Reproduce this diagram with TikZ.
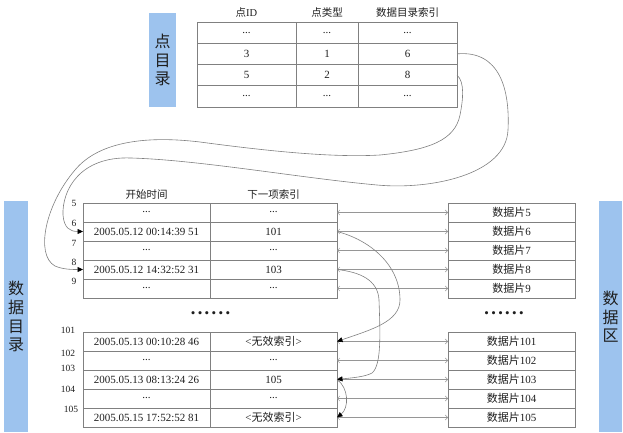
\documentclass[tikz,border=0pt]{standalone}
\usepackage{fontspec}
\setmainfont{Liberation Serif}
\newfontfamily\cjk{Noto Sans CJK SC}
\usetikzlibrary{arrows.meta}
\definecolor{linegray}{RGB}{128,128,128}
\definecolor{arrgray}{RGB}{150,150,150}
\definecolor{txt}{RGB}{30,30,30}
\definecolor{bluefill}{RGB}{157,195,238}
\newcommand\dd{...}
\newcommand\nv{<{\cjk 无效索引}>}
\newcommand\bul{•\hspace{2.4pt}•\hspace{2.4pt}•\hspace{2.4pt}•\hspace{2.4pt}•\hspace{2.4pt}•}
\begin{document}
\begin{tikzpicture}[x=1pt,y=-1pt,
  cell/.style={draw=linegray, line width=0.6pt, minimum width=127pt, minimum height=19pt,
    inner sep=0pt, outer sep=0pt, anchor=north west, text=txt, font=\fontsize{11}{12}\selectfont},
  tcell/.style={cell, minimum height=21.25pt},
  hdr/.style={text=txt, inner sep=0pt, font=\cjk\fontsize{10.5}{12}\selectfont},
  rlab/.style={text=txt, inner sep=0pt, font=\fontsize{9.5}{10}\selectfont},
  bluebox/.style={fill=bluefill, draw=none, anchor=north west, inner sep=0pt, align=center,
    text=txt, font=\cjk\fontsize{16}{18.6}\selectfont},
  dbl/.style={draw=arrgray, line width=0.5pt,
    {Straight Barb[length=2.5pt,width=5pt]}-{Straight Barb[length=2.5pt,width=5pt]}},
  link/.style={draw=linegray, line width=0.6pt,
    -{Triangle[length=5.5pt,width=5pt,color=black,fill=black]}},
  dots/.style={text=txt, inner sep=0pt, font=\fontsize{13}{14}\selectfont}
]
\useasboundingbox (0,0) rectangle (623,433);

% blue side labels
\node[bluebox, minimum width=27pt, minimum height=94pt] (pdir) at (149,13) {点\\目\\录};
\node[bluebox, minimum width=24pt, minimum height=231pt] (ddir) at (4,201) {数\\据\\目\\录};
\node[bluebox, minimum width=23pt, minimum height=231pt] (darea) at (599,201) {数\\据\\区};

% top table
\node[hdr] (h1) at (246.5,12.5) {点{\fontspec{Liberation Serif}ID}};
\node[hdr] (h2) at (327,12.5) {点类型};
\node[hdr] (h3) at (407.5,12.5) {数据目录索引};
\foreach \a/\b/\c [count=\i] in {\dd/\dd/\dd, 3/1/6, 5/2/8, \dd/\dd/\dd} {
  \pgfmathsetmacro\yy{22+(\i-1)*21.25}
  \node[tcell, minimum width=99pt] (t\i a) at (197,\yy) {\a};
  \node[tcell, minimum width=62pt] (t\i b) at (296,\yy) {\b};
  \node[tcell, minimum width=99pt] (t\i c) at (358,\yy) {\c};
}

% middle table
\node[hdr] (h4) at (146.5,195) {开始时间};
\node[hdr] (h5) at (273.5,195) {下一项索引};
\foreach \n/\t/\k/\ly [count=\i] in {5/\dd/\dd/203, 6/{2005.05.12 00:14:39 51}/101/223, 7/\dd/\dd/243, 8/{2005.05.12 14:32:52 31}/103/262, 9/\dd/\dd/281} {
  \pgfmathsetmacro\yy{203+(\i-1)*19}
  \node[cell] (m\n a) at (83,\yy) {\t};
  \node[cell] (m\n b) at (210,\yy) {\k};
  \node[cell] (d\n) at (448,\yy) {{\cjk 数据片}\n};
  \node[rlab] (l\n) at (74,\ly) {\n};
  \draw[dbl] (m\n b.east) -- (d\n.west);
}

% dots
\node[dots] (dots1) at (210.5,315) {\bul};
\node[dots] (dots2) at (504,315) {\bul};

% bottom table
\foreach \n/\t/\k/\lx/\ly [count=\i] in {101/{2005.05.13 00:10:28 46}/\nv/68/330, 102/\dd/\dd/68/353, 103/{2005.05.13 08:13:24 26}/105/68/368.5, 104/\dd/\dd/68/389, 105/{2005.05.15 17:52:52 81}/\nv/71/409} {
  \pgfmathsetmacro\yy{332+(\i-1)*19}
  \node[cell] (m\n a) at (83,\yy) {\t};
  \node[cell] (m\n b) at (210,\yy) {\k};
  \node[cell] (d\n) at (448,\yy) {{\cjk 数据片}\n};
  \node[rlab] (l\n) at (\lx,\ly) {\n};
  \draw[dbl] (m\n b.east) -- (d\n.west);
}

% links from point directory to data directory
\draw[link] (t2c.east) .. controls (500,50) and (510,90) .. (508,130)
  .. controls (506,175) and (430,190) .. (377,185)
  .. controls (300,178) and (200,160) .. (131,158)
  .. controls (80,156) and (62,190) .. (63,215)
  .. controls (64,228) and (70,231.5) .. (m6a.west);
\draw[link] (t3c.east) .. controls (465,82) and (463,100) .. (460,115)
  .. controls (455,140) and (430,150) .. (380,155)
  .. controls (330,158) and (260,150) .. (200,142)
  .. controls (150,136) and (100,140) .. (75,170)
  .. controls (45,205) and (35,255) .. (55,266)
  .. controls (63,269.5) and (72,269.5) .. (m8a.west);

% links between data directory entries
\draw[link] (m6b.east) .. controls (370,240) and (400,265) .. (400,300)
  .. controls (400,322) and (370,330) .. (m101b.east);
\draw[link] (m8b.east) .. controls (360,272) and (378,280) .. (379,300)
  .. controls (380,330) and (382,365) .. (372,373)
  .. controls (365,377) and (350,378) .. (m103b.east);
\draw[link] (m103b.east) .. controls (349,388) and (349,408) .. (m105b.east);
\end{tikzpicture}
\end{document}
